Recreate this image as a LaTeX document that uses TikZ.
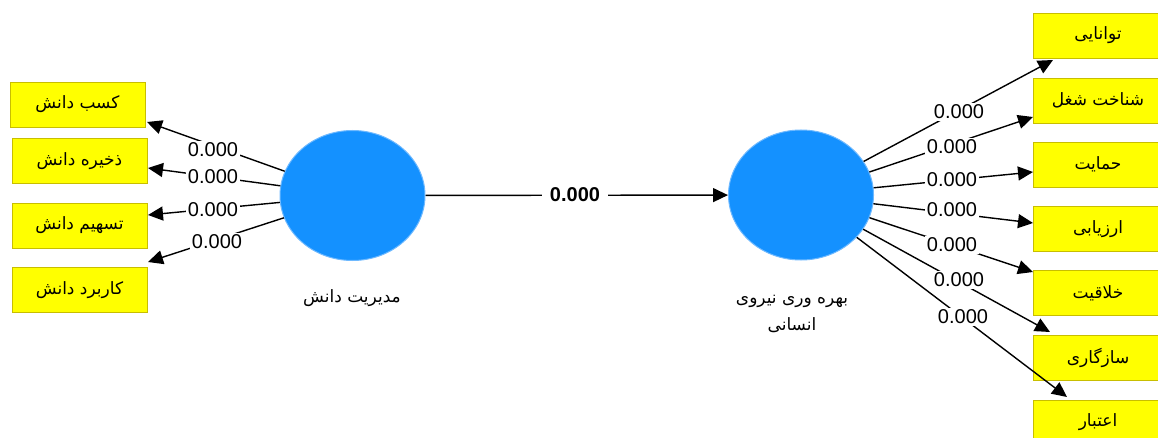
\documentclass[tikz,border=0pt]{standalone}
\usepackage{fontspec}
\setmainfont{Liberation Sans}
\newfontfamily\arabicfont[Script=Arabic]{DejaVu Sans}
\TeXXeTstate=1
\usetikzlibrary{arrows.meta,shapes.geometric}
\definecolor{cblue}{RGB}{20,145,255}
\definecolor{cbluee}{RGB}{110,185,255}
\definecolor{byel}{RGB}{255,255,0}
\definecolor{byele}{RGB}{200,190,0}
\tikzset{
 lv/.style={ellipse, fill=cblue, draw=cbluee, line width=1pt, minimum width=145pt, minimum height=130pt, inner sep=0pt},
 ind/.style={rectangle, fill=byel, draw=byele, line width=0.8pt, minimum height=45pt, inner sep=0pt, font=\arabicfont\fontsize{17}{20}\selectfont},
 lind/.style={ind, minimum width=135pt},
 rind/.style={ind, minimum width=130pt},
 conn/.style={line width=1.4pt, -{Triangle[length=15pt,width=14pt]}},
 lbl/.style={fill=white, inner sep=2pt, font=\fontsize{20}{22}\selectfont},
 ptxt/.style={font=\arabicfont\fontsize{17}{27}\selectfont, align=center},
}
\begin{document}
\begin{tikzpicture}[x=1pt,y=-1pt]
\useasboundingbox (0,0) rectangle (1158,438);
\clip (0,0) rectangle (1158,438);
% left indicators
\node[lind] (k1) at (77.5,104.5) {\beginR کسب دانش\endR};
\node[lind] (k2) at (79.5,161) {\beginR ذخیره دانش\endR};
\node[lind] (k3) at (79.5,225.5) {\beginR تسهیم دانش\endR};
\node[lind] (k4) at (79.5,290) {\beginR کاربرد دانش\endR};
% right indicators
\node[rind] (h1) at (1098,35.5) {\beginR توانایی\endR};
\node[rind] (h2) at (1098,100.5) {\beginR شناخت شغل\endR};
\node[rind] (h3) at (1098,164.5) {\beginR حمایت\endR};
\node[rind] (h4) at (1098,229) {\beginR ارزیابی\endR};
\node[rind] (h5) at (1098,293) {\beginR خلاقیت\endR};
\node[rind] (h6) at (1098,357.5) {\beginR سازگاری\endR};
\node[rind] (h7) at (1098,422.5) {\beginR اعتبار\endR};
% latent variables
\node[lv] (c1) at (352.5,195.5) {};
\node[lv] (c2) at (801,195) {};
\node[ptxt] (n1) at (352,298) {\beginR مدیریت دانش\endR};
\node[ptxt] (n2) at (792,314) {\beginR بهره وری نیروی\endR\\\beginR انسانی\endR};
% arrow tips
\coordinate (tl1) at (147,122);
\coordinate (tl2) at (148,168);
\coordinate (tl3) at (148,215);
\coordinate (tl4) at (148,262);
\coordinate (tr1) at (1053,60);
\coordinate (tr2) at (1033,117);
\coordinate (tr3) at (1033,172);
\coordinate (tr4) at (1033,223);
\coordinate (tr5) at (1033,272);
\coordinate (tr6) at (1050,332);
\coordinate (tr7) at (1067,397);
% connectors
\draw[conn] (c1) -- (c2);
\foreach \i in {1,...,4} {\draw[conn] (c1) -- (tl\i);}
\foreach \i in {1,...,7} {\draw[conn] (c2) -- (tr\i);}
% labels
\node[lbl, inner xsep=8pt, font=\bfseries\fontsize{20}{22}\selectfont] (m0) at (575,195) {0.000};
\node[lbl] (l1) at (213,150) {0.000};
\node[lbl] (l2) at (213,177) {0.000};
\node[lbl] (l3) at (213,210) {0.000};
\node[lbl] (l4) at (217,242) {0.000};
\node[lbl] (r1) at (959,112) {0.000};
\node[lbl] (r2) at (952,147) {0.000};
\node[lbl] (r3) at (952,180) {0.000};
\node[lbl] (r4) at (952,210) {0.000};
\node[lbl] (r5) at (952,245) {0.000};
\node[lbl] (r6) at (959,280) {0.000};
\node[lbl] (r7) at (963,317) {0.000};
\end{tikzpicture}
\end{document}
